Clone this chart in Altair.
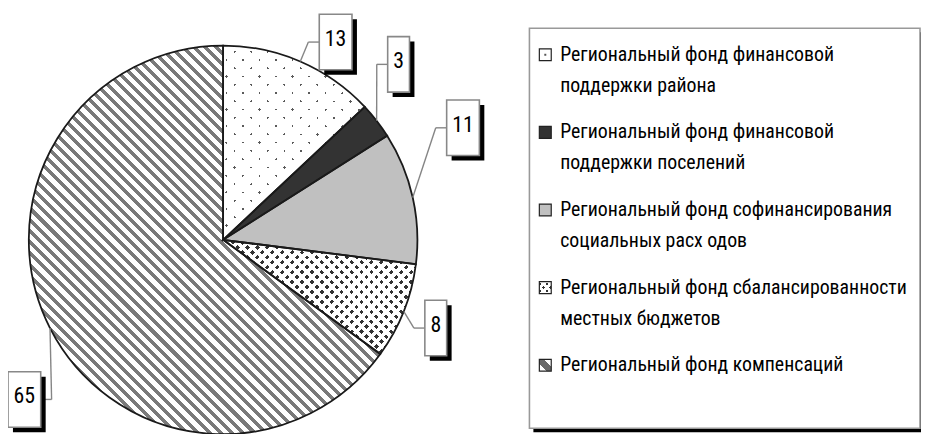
import math
import altair as alt
import pandas as pd

# ---------------- data ----------------
categories = [
    "Региональный фонд финансовой поддержки района",
    "Региональный фонд финансовой поддержки поселений",
    "Региональный фонд софинансирования социальных расходов",
    "Региональный фонд сбалансированности местных бюджетов",
    "Региональный фонд компенсаций",
]
values = [13, 3, 11, 8, 65]
legend_line1 = [
    "Региональный фонд финансовой",
    "Региональный фонд финансовой",
    "Региональный фонд софинансирования",
    "Региональный фонд сбалансированности",
    "Региональный фонд компенсаций",
]
legend_line2 = [
    "поддержки района",
    "поддержки поселений",
    "социальных  расх одов",
    "местных  бюджетов",
    "",
]

# annotation layout: label box centres relative to pie centre
label_dx = [113.5, 177, 242, 214.5, -200.5]
label_dy = [-199.5, -177, -113, 89, 161]

# ---------------- layout ----------------
FW, FH = 921, 426
CX, CY, R = 217, 232, 196
FONT = "Liberation Sans Narrow, Arial Narrow, Roboto Condensed, DejaVu Sans Condensed, sans-serif"
SQ2 = math.sqrt(2)


def arc_bbox(a0, a1):
    t0, t1 = a0 * 3.6, a1 * 3.6
    angs = [t0, t1] + [c for c in (0, 90, 180, 270, 360) if t0 < c < t1]
    pts = [(0.0, 0.0)] + [(R * math.sin(math.radians(a)), -R * math.cos(math.radians(a))) for a in angs]
    xs = [p[0] for p in pts]
    ys = [p[1] for p in pts]
    return max(xs) - min(xs), max(ys) - min(ys)


def stripe_stops(pt, wt, line, gap, phase=0.0):
    ivs = []
    s = (phase % pt) - pt
    while s < 1:
        a, b = max(0.0, s), min(1.0, s + wt)
        if b > a:
            ivs.append((a, b))
        s += pt
    stops, pos = [], 0.0
    for a, b in ivs:
        if a > pos:
            stops += [(pos, gap), (a, gap)]
        stops += [(a, line), (b, line)]
        pos = b
    if pos < 1:
        stops += [(pos, gap), (1.0, gap)]
    return [{"offset": round(o, 5), "color": c} for o, c in stops]


def grad(kind, W, H, period, width, line, gap, phase=0.0):
    k = (W + H) / (W * W + H * H)
    if kind == "bs":  # "\" stripes
        x1, y1, x2, y2 = 0, 1, k * W, 1 - k * H
    else:  # "/" stripes
        x1, y1, x2, y2 = 0, 0, k * W, k * H
    span = (W + H) / SQ2
    return {
        "gradient": "linear",
        "x1": x1, "y1": y1, "x2": round(x2, 5), "y2": round(y2, 5),
        "stops": stripe_stops(period / span, width / span, line, gap, phase / span),
    }


cum = [sum(values[:i]) for i in range(len(values) + 1)]
boxes = [arc_bbox(cum[i], cum[i + 1]) for i in range(len(values))]
CLEAR = "rgba(255,255,255,0)"

# ---------------- pie ----------------
df = pd.DataFrame({
    "cat": categories, "value": values, "order": list(range(len(values))),
    "ldx": label_dx, "ldy": label_dy,
})

XS = alt.Scale(domain=[0, FW], range=[0, FW], nice=False, zero=False)
YS = alt.Scale(domain=[0, FH], range=[0, FH], nice=False, zero=False)
TS = alt.Scale(domain=[0, 100], range=[0, 2 * math.pi])

base = alt.Chart(df).transform_window(
    cum="sum(value)", sort=[alt.SortField("order")], frame=[None, 0]
).transform_calculate(
    start="datum.cum - datum.value",
    ang="(datum.cum - datum.value / 2) / 100 * 2 * PI",
    tx=f"{CX} + {R} * sin(datum.ang)",
    ty=f"{CY} - {R} * cos(datum.ang)",
    bx=f"{CX} + datum.ldx",
    by=f"{CY} + datum.ldy",
    bw="11 + 11 * length(toString(datum.value))",
    bl="datum.bx - datum.bw / 2",
    br="datum.bx + datum.bw / 2",
    bt="datum.by - 28",
    bb="datum.by + 28",
    side=f"datum.bx > {CX} ? datum.bl : datum.br",
    ex=f"datum.bx > {CX} ? datum.side - 11 : datum.side + 11",
    sl="datum.bl + 5",
    sr="datum.br + 5",
    st="datum.bt + 5",
    sb="datum.bb + 5",
    lab="toString(datum.value)",
)

arc_enc = dict(
    theta=alt.Theta("start:Q", scale=TS, stack=False),
    theta2=alt.Theta2("cum:Q"),
    x=alt.value(CX),
    y=alt.value(CY),
)


def slice_layer(i, fill):
    return base.transform_filter(alt.datum.order == i).mark_arc(
        radius=R, fill=fill, strokeWidth=0
    ).encode(**arc_enc)


W0, H0 = boxes[0]
W3, H3 = boxes[3]
W4, H4 = boxes[4]

layers = [
    # sparse dots
    slice_layer(0, grad("fs", W0, H0, 11.8, 1.7, "#5a5a5a", "white")),
    slice_layer(0, grad("bs", W0, H0, 11.8, 1.7, CLEAR, "white")),
    # dark
    slice_layer(1, "#333333"),
    # light grey
    slice_layer(2, "#c0c0c0"),
    # dense dots
    slice_layer(3, grad("fs", W3, H3, 7.07, 3.2, "#333333", "white")),
    slice_layer(3, grad("bs", W3, H3, 7.07, 3.2, CLEAR, "white")),
    # diagonal hatch
    slice_layer(4, grad("bs", W4, H4, 8.0, 3.6, "#7a7a7a", "white")),
    # outlines
    base.mark_arc(radius=R, fill="transparent", stroke="#1a1a1a", strokeWidth=1.8).encode(**arc_enc),
]

# leader lines
layers.append(base.mark_rule(color="#858585", strokeWidth=1.4).encode(
    x=alt.X("tx:Q", scale=XS, axis=None), y=alt.Y("ty:Q", scale=YS, axis=None),
    x2="ex:Q", y2="by:Q"))
layers.append(base.mark_rule(color="#858585", strokeWidth=1.4).encode(
    x=alt.X("ex:Q", scale=XS, axis=None), y=alt.Y("by:Q", scale=YS, axis=None),
    x2="side:Q", y2="by:Q"))
# label shadows and boxes
layers.append(base.mark_rect(fill="black").encode(
    x=alt.X("sl:Q", scale=XS, axis=None), x2="sr:Q",
    y=alt.Y("st:Q", scale=YS, axis=None), y2="sb:Q"))
layers.append(base.mark_rect(fill="white", stroke="#888888", strokeWidth=1.6).encode(
    x=alt.X("bl:Q", scale=XS, axis=None), x2="br:Q",
    y=alt.Y("bt:Q", scale=YS, axis=None), y2="bb:Q"))
layers.append(base.mark_text(font=FONT, fontSize=22, baseline="middle", align="center",
                             dy=-3, color="black").encode(
    x=alt.X("bx:Q", scale=XS, axis=None), y=alt.Y("by:Q", scale=YS, axis=None),
    text="lab:N"))

# ---------------- legend ----------------
one = alt.Chart(pd.DataFrame({"k": [0]}))
layers.append(one.mark_rect(fill="black").encode(
    x=alt.value(530), x2=alt.value(925), y=alt.value(22.5), y2=alt.value(426)))
layers.append(one.mark_rect(fill="white", stroke="#999999", strokeWidth=1.6).encode(
    x=alt.value(526), x2=alt.value(920), y=alt.value(18.5), y2=alt.value(422)))

rows = []
for i, (l1, l2) in enumerate(zip(legend_line1, legend_line2)):
    rows.append({"item": i, "line": 0, "text": l1})
    if l2:
        rows.append({"item": i, "line": 1, "text": l2})
leg_df = pd.DataFrame(rows)

LEG_Y0, LEG_STEP, LINE_H = 45.3, 78.3, 31.3
leg = alt.Chart(leg_df).transform_calculate(
    ly=f"{LEG_Y0} + datum.item * {LEG_STEP} + datum.line * {LINE_H}",
    sy0="datum.ly - 6",
    sy1="datum.ly + 6",
)

sym_fills = [
    [{"gradient": "radial", "x1": 0.5, "y1": 0.5, "r1": 0, "x2": 0.5, "y2": 0.5, "r2": 0.5,
      "stops": [{"offset": 0, "color": "#555"}, {"offset": 0.14, "color": "#555"},
                {"offset": 0.22, "color": "white"}, {"offset": 1, "color": "white"}]}],
    ["#333333"],
    ["#c0c0c0"],
    [grad("fs", 12, 12, 5.0, 2.4, "#333333", "white", 1.0),
     grad("bs", 12, 12, 5.0, 2.4, CLEAR, "white", 1.0)],
    [{"gradient": "linear", "x1": 0, "y1": 1, "x2": 1, "y2": 0,
      "stops": [{"offset": 0, "color": "white"}, {"offset": 0.3, "color": "white"},
                {"offset": 0.32, "color": "#6a6a6a"}, {"offset": 0.68, "color": "#6a6a6a"},
                {"offset": 0.7, "color": "white"}, {"offset": 1, "color": "white"}]}],
]
for i, fills in enumerate(sym_fills):
    for j, f in enumerate(fills):
        last = j == len(fills) - 1
        kw = dict(fill=f)
        if last:
            kw.update(stroke="#222222", strokeWidth=1.2)
        layers.append(leg.transform_filter((alt.datum.item == i) & (alt.datum.line == 0)).mark_rect(**kw).encode(
            x=alt.value(536), x2=alt.value(548),
            y=alt.Y("sy0:Q", scale=YS, axis=None), y2="sy1:Q"))

layers.append(leg.mark_text(align="left", baseline="middle", font=FONT, fontSize=20, color="black").encode(
    x=alt.value(557), y=alt.Y("ly:Q", scale=YS, axis=None), text="text:N"))

chart = alt.layer(*layers).properties(
    width=FW, height=FH, padding=0,
    autosize=alt.AutoSizeParams(type="none"),
    background="white",
).configure_view(strokeWidth=0)

chart.save("out.html", embed_options={"renderer": "svg", "actions": False})
